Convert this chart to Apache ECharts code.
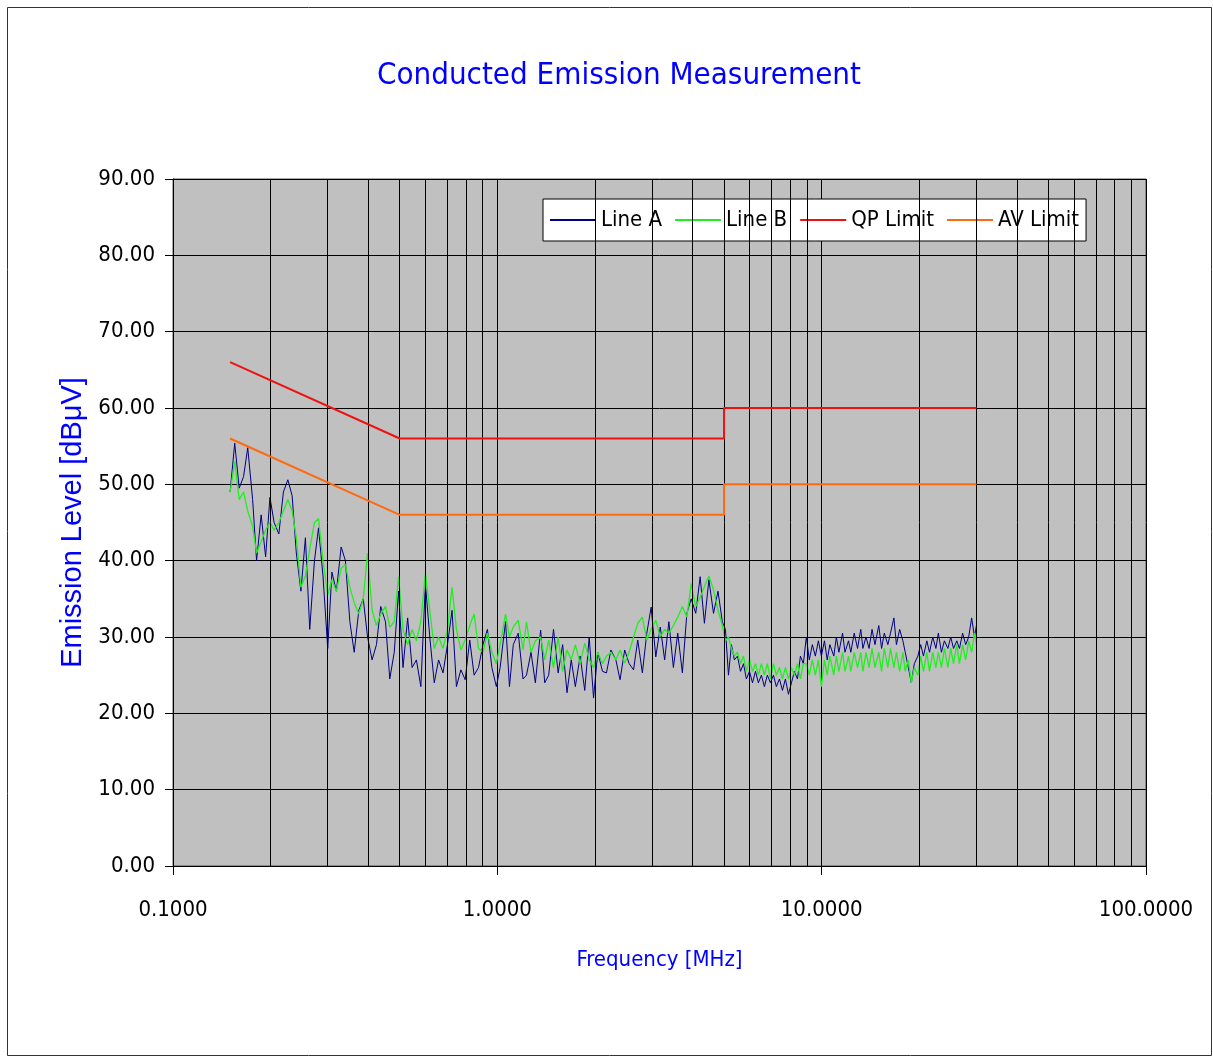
<!DOCTYPE html>
<html>
<head>
<meta charset="utf-8">
<script src="https://cdn.jsdelivr.net/npm/echarts@6/dist/echarts.min.js"></script>
<style>
html, body { margin: 0; padding: 0; background: #fff; }
#chart { width: 1213px; height: 1057px; }
</style>
</head>
<body>
<div id="chart"></div>
<script>
// frequency points of the measured traces [MHz]
const freq = [
  0.150, 0.155, 0.160, 0.165, 0.170, 0.176, 0.181, 0.187, 0.193, 0.199,
  0.205, 0.212, 0.219, 0.226, 0.233, 0.240, 0.248, 0.256, 0.264, 0.273,
  0.281, 0.290, 0.300, 0.309, 0.319, 0.330, 0.340, 0.351, 0.362, 0.374,
  0.386, 0.398, 0.411, 0.424, 0.437, 0.452, 0.466, 0.481, 0.496, 0.512,
  0.529, 0.546, 0.563, 0.581, 0.600, 0.619, 0.639, 0.659, 0.680, 0.702,
  0.725, 0.748, 0.772, 0.796, 0.822, 0.848, 0.875, 0.903, 0.932, 0.962,
  0.993, 1.02, 1.06, 1.09, 1.12, 1.16, 1.20, 1.23, 1.27, 1.31,
  1.36, 1.40, 1.44, 1.49, 1.54, 1.59, 1.64, 1.69, 1.74, 1.80,
  1.86, 1.92, 1.98, 2.04, 2.11, 2.17, 2.24, 2.32, 2.39, 2.47,
  2.55, 2.63, 2.71, 2.80, 2.89, 2.98, 3.08, 3.18, 3.28, 3.38,
  3.49, 3.60, 3.72, 3.84, 3.96, 4.09, 4.22, 4.35, 4.49, 4.64,
  4.79, 4.94,
  5.05, 5.16, 5.27, 5.38, 5.50, 5.62, 5.74, 5.86, 5.99, 6.12,
  6.25, 6.38, 6.52, 6.66, 6.80, 6.95, 7.10, 7.25, 7.41, 7.57,
  7.73, 7.90, 8.07, 8.24, 8.42, 8.60, 8.78, 8.97, 9.16, 9.36,
  9.56, 9.77, 9.98, 10.2, 10.4, 10.6, 10.9, 11.1, 11.3, 11.6,
  11.8, 12.1, 12.3, 12.6, 12.9, 13.2, 13.4, 13.7, 14.0, 14.3,
  14.6, 15.0, 15.3, 15.6, 16.0, 16.3, 16.7, 17.0, 17.4, 17.8,
  18.1, 18.5, 18.9, 19.3, 19.8, 20.2, 20.6, 21.1, 21.5, 22.0,
  22.5, 22.9, 23.4, 23.9, 24.5, 25.0, 25.5, 26.1, 26.6, 27.2,
  27.8, 28.4, 29.0, 29.6, 30.0
];

// Line A [dBuV]
const lineA = [
  49, 55.4, 49.5, 51, 54.8, 48, 40, 46, 40.5, 48.3,
  45, 43.5, 49, 50.6, 48.5, 41, 36, 43, 31, 40,
  44.3, 38, 28.5, 38.5, 36, 41.8, 40, 32, 28, 33.5,
  35, 30, 27, 29, 34, 32, 24.5, 28, 36, 26,
  32.5, 26, 27, 23.5, 37, 30, 24, 27, 25.3, 29,
  33.5, 23.5, 25.7, 24.4, 29.6, 25, 26, 29, 31, 26,
  23.5, 26, 32, 23.5, 29, 30.5, 24.5, 25, 28, 24,
  30.9, 24, 25, 31, 25.3, 29, 22.7, 27, 23.5, 27.5,
  23, 30, 22, 28, 25.5, 25.3, 28.3, 27, 24.4, 28.3,
  26.5, 25.7, 29.6, 25.3, 30.5, 33.9, 27.4, 31.3, 27, 32,
  26, 30.5, 25.3, 33.1, 35, 33.1, 37.9, 31.8, 37.5, 33.1,
  36, 32,
  31, 25, 29, 27, 27.5, 25.5, 26.5, 24.5, 25.5, 24,
  25.5, 24, 25, 23.5, 25, 24, 25, 23.5, 24.5, 23,
  24.5, 22.5, 24, 25.5, 24.5, 27.5, 26.5, 30, 27, 29,
  27.5, 29.5, 27.5, 29.5, 27, 29, 27.5, 30, 28, 30.5,
  28, 29.5, 28, 30.5, 28.5, 31, 28.5, 30, 28.5, 31,
  29, 31.5, 28.5, 30.5, 29, 30.5, 32.5, 29, 31, 29.5,
  28, 26, 24, 26.5, 27.5, 29, 27.5, 29.5, 28, 30,
  28.5, 30.5, 28, 29.5, 28.5, 30, 28.5, 29.5, 28.5, 30.5,
  29, 30, 32.5, 30, 31.5
];

// Line B [dBuV]
const lineB = [
  49, 53, 48, 49, 46.5, 44.5, 41, 42.5, 44, 45,
  44, 45, 46.5, 48, 46.5, 43, 36.5, 38, 41.5, 45,
  45.5, 40, 35.5, 37.5, 36, 39, 39.5, 36.5, 34.5, 33,
  35, 41, 33.5, 31.5, 33, 34, 31.3, 32, 37.9, 31,
  29, 31, 29.5, 32, 38.4, 33.5, 28.5, 30, 28.5, 31,
  36.5, 31, 28.3, 29.6, 31.5, 33, 28.5, 28, 30.5, 28,
  26.5, 29, 33, 30, 31.3, 32.2, 28.3, 32, 28, 29.5,
  30, 27, 29.6, 26, 30, 25.5, 28.3, 27, 29, 26.5,
  29.2, 27, 26, 28, 26.5, 27.5, 28, 27, 28.3, 26.6,
  28, 30, 31.8, 32.6, 29.6, 31, 32.2, 30, 31, 30.5,
  31.5, 32.6, 34, 32.6, 37, 34, 35.2, 36.6, 38, 36.2,
  33.5, 31.5,
  29.5, 30, 28.5, 27.5, 28, 26.5, 27.5, 25.5, 27, 25.5,
  26.5, 25, 26.5, 25, 26.5, 24.5, 26.5, 25, 26, 24.5,
  26, 24.5, 26, 25, 26.5, 24.5, 26.5, 26.5, 25, 27,
  25, 27, 23.5, 27, 25, 27.5, 25, 27.5, 25.5, 28,
  25.5, 27.5, 25.5, 28, 26, 28, 25.5, 28, 26, 28.5,
  26, 28, 25.5, 28.5, 26, 28.5, 26, 28, 25.5, 28,
  25.5, 27, 24, 26, 25, 27.5, 25.5, 28, 25.5, 28,
  26, 28, 26, 28.5, 26, 28.5, 26.5, 29, 26.5, 29,
  27, 29.5, 28, 30.5, 29
];

// limit lines
const limitFreq = [0.15, 0.5, 5, 5, 30];
const qpLimit = [66, 56, 56, 60, 60];
const avLimit = [56, 46, 46, 50, 50];

// log grid lines between decades
const minorFreq = [0.2, 0.3, 0.4, 0.5, 0.6, 0.7, 0.8, 0.9,
  2, 3, 4, 5, 6, 7, 8, 9, 20, 30, 40, 50, 60, 70, 80, 90];

const FONT = "'Liberation Sans Narrow', 'Arial Narrow', 'DejaVu Sans Condensed', 'Liberation Sans', Arial, sans-serif";
const WIDE = "'Liberation Sans', Arial, sans-serif";

const pairs = (xs, ys) => xs.map((x, i) => [x, ys[i]]);

const chart = echarts.init(document.getElementById('chart'));
chart.setOption({
  animation: false,
  backgroundColor: '#fff',
  textStyle: { fontFamily: FONT },
  graphic: [{
    type: 'rect',
    shape: { x: 7.5, y: 7.5, width: 1204, height: 1048 },
    style: { fill: 'none', stroke: '#333', lineWidth: 1 },
    silent: true
  }],
  title: {
    text: 'Conducted Emission Measurement',
    left: 372, top: 55,
    textStyle: { color: '#0000ff', fontSize: 31, fontWeight: 'normal', fontFamily: FONT }
  },
  legend: {
    left: 543, top: 199,
    orient: 'horizontal',
    backgroundColor: '#fff',
    borderColor: '#000', borderWidth: 1,
    padding: [10, 7, 10, 7],
    itemGap: 13,
    itemWidth: 46, itemHeight: 2,
    icon: 'rect',
    textStyle: { fontSize: 22, color: '#000', fontFamily: FONT },
    data: ['Line A', 'Line B', 'QP Limit', 'AV Limit']
  },
  grid: {
    left: 173, right: 67, top: 179, bottom: 191,
    show: true, backgroundColor: '#c0c0c0', borderColor: '#555', borderWidth: 1
  },
  xAxis: {
    type: 'log', logBase: 10, min: 0.1, max: 100,
    name: 'Frequency [MHz]', nameLocation: 'middle', nameGap: 83,
    nameTextStyle: { color: '#0000ff', fontSize: 22, fontFamily: FONT },
    axisLine: { lineStyle: { color: '#000', width: 1 } },
    axisTick: { show: true, length: 9, lineStyle: { color: '#000' } },
    axisLabel: { color: '#000', fontSize: 22, margin: 33, formatter: v => v.toFixed(4) },
    splitLine: { show: true, lineStyle: { color: '#000', width: 1 } },
    minorTick: { show: false }, minorSplitLine: { show: false }
  },
  yAxis: {
    type: 'value', min: 0, max: 90, interval: 10,
    name: 'Emission Level [dBμV]', nameLocation: 'middle', nameGap: 80, nameRotate: 90,
    nameTextStyle: { color: '#0000ff', fontSize: 29, fontFamily: WIDE },
    axisLine: { show: true, lineStyle: { color: '#000', width: 1 } },
    axisTick: { show: true, length: 8, lineStyle: { color: '#000' } },
    axisLabel: { color: '#000', fontSize: 22, margin: 18, formatter: v => v.toFixed(2) },
    splitLine: { show: true, lineStyle: { color: '#000', width: 1 } }
  },
  series: [
    {
      name: 'grid', type: 'line', data: [], silent: true, z: 1,
      markLine: {
        silent: true, symbol: 'none', animation: false,
        label: { show: false },
        lineStyle: { color: '#000', width: 1, type: 'solid' },
        emphasis: { disabled: true },
        data: minorFreq.map(f => ({ xAxis: f }))
      }
    },
    {
      name: 'Line A', type: 'line', data: pairs(freq, lineA),
      showSymbol: false, symbol: 'none', z: 3,
      lineStyle: { color: '#000080', width: 1 }, itemStyle: { color: '#000080' }
    },
    {
      name: 'Line B', type: 'line', data: pairs(freq, lineB),
      showSymbol: false, symbol: 'none', z: 4,
      lineStyle: { color: '#22ee22', width: 1.3 }, itemStyle: { color: '#22ee22' }
    },
    {
      name: 'QP Limit', type: 'line', data: pairs(limitFreq, qpLimit),
      showSymbol: false, symbol: 'none', z: 5,
      lineStyle: { color: '#ee1111', width: 2 }, itemStyle: { color: '#ee1111' }
    },
    {
      name: 'AV Limit', type: 'line', data: pairs(limitFreq, avLimit),
      showSymbol: false, symbol: 'none', z: 5,
      lineStyle: { color: '#ff6a10', width: 2 }, itemStyle: { color: '#ff6a10' }
    }
  ]
});
</script>
</body>
</html>
